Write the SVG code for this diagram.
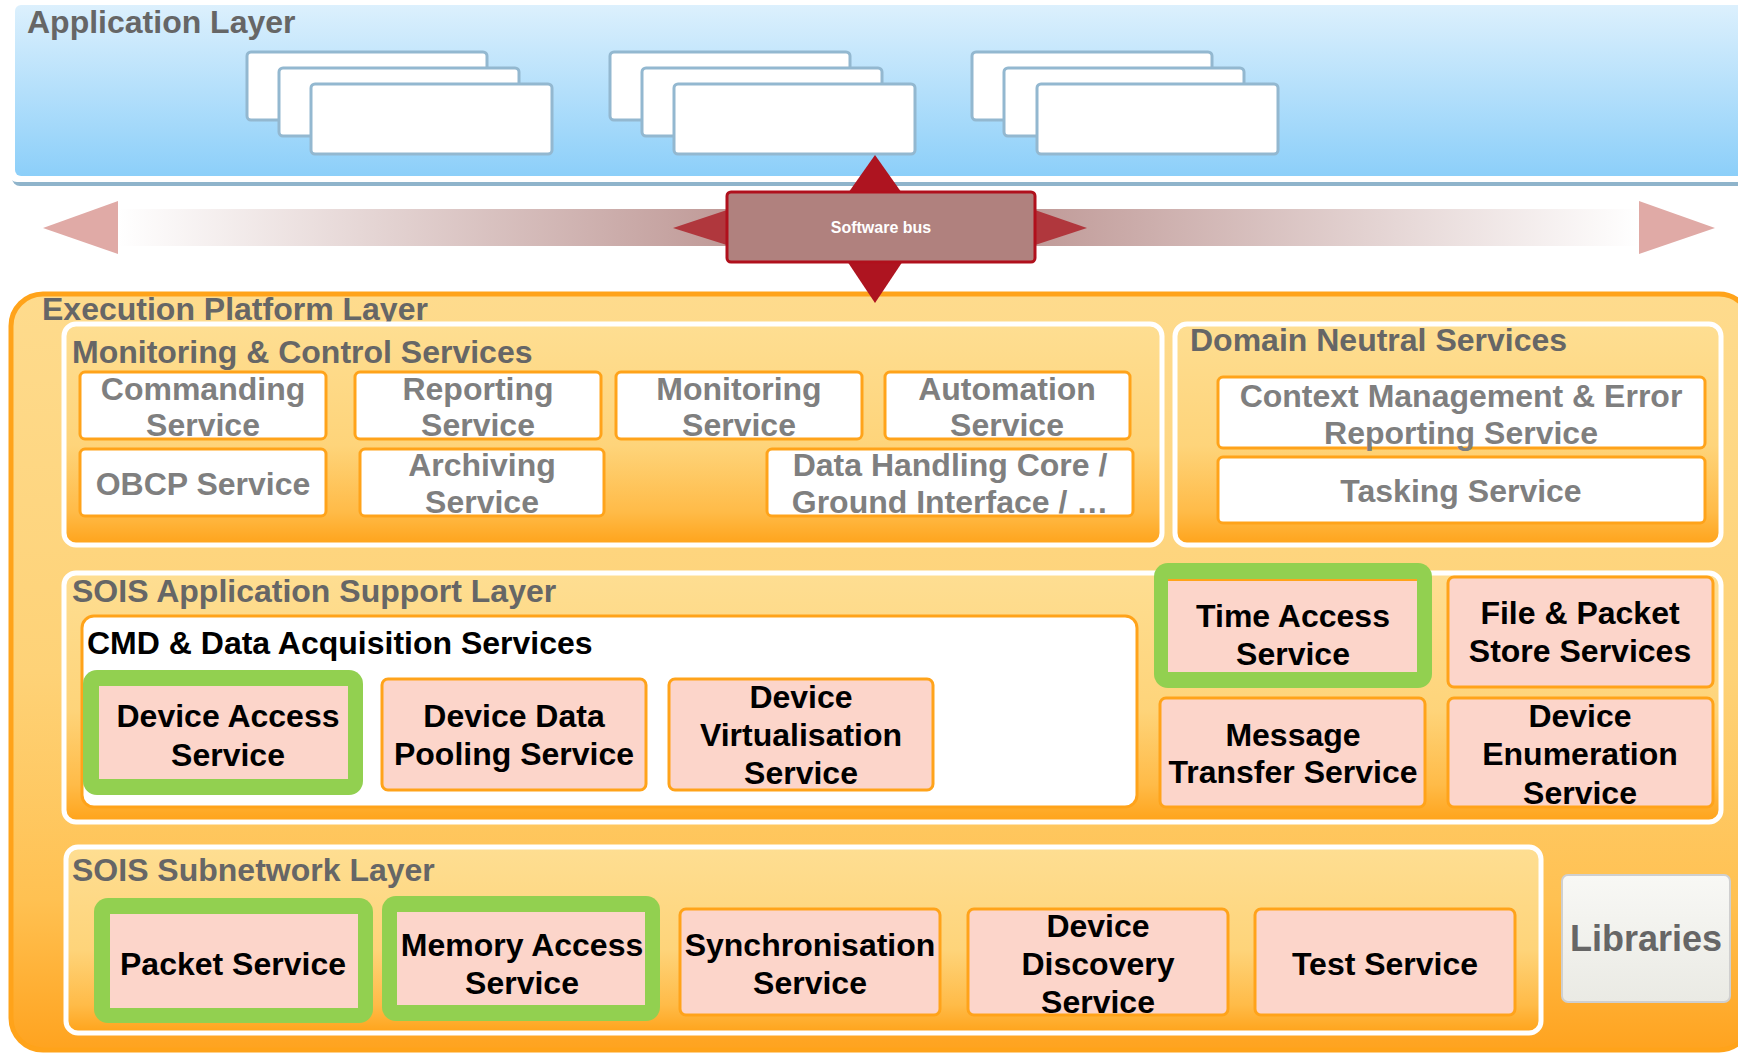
<svg xmlns="http://www.w3.org/2000/svg" width="1738" height="1054" viewBox="0 0 1738 1054">
<style>
text{font-family:"Liberation Sans",Arial,sans-serif;font-weight:bold;}
.title{font-size:32px;fill:#666666;}
.gt{font-size:32px;fill:#7f7f7f;text-anchor:middle;}
.bt{font-size:32px;fill:#000000;text-anchor:middle;}
.panel{fill:url(#panelGrad);stroke:#ffffff;stroke-width:5;}
.wbox{fill:#ffffff;stroke:#ffa31a;stroke-width:3;}
.pbox{fill:#fcd5ca;stroke:#ffa31a;stroke-width:3;}
.green{fill:#92d050;}
.pin{fill:#fcd5ca;}
.app{fill:#ffffff;stroke:#93b8d0;stroke-width:3;}
</style>
<defs>
<linearGradient id="appGrad" x1="0" y1="0" x2="0" y2="1">
<stop offset="0" stop-color="#dcf0fd"/>
<stop offset="1" stop-color="#8ccff9"/>
</linearGradient>
<linearGradient id="execGrad" x1="0" y1="0" x2="0" y2="1">
<stop offset="0" stop-color="#fedb8d"/>
<stop offset="0.5" stop-color="#fed277"/>
<stop offset="0.8" stop-color="#ffc152"/>
<stop offset="1" stop-color="#ffa31f"/>
</linearGradient>
<linearGradient id="panelGrad" x1="0" y1="0" x2="0" y2="1">
<stop offset="0" stop-color="#fede92"/>
<stop offset="0.55" stop-color="#fed47a"/>
<stop offset="0.85" stop-color="#ffbb48"/>
<stop offset="1" stop-color="#ffa31a"/>
</linearGradient>
<linearGradient id="busGrad" gradientUnits="userSpaceOnUse" x1="118" y1="0" x2="1639" y2="0">
<stop offset="0" stop-color="#ffffff"/>
<stop offset="0.5" stop-color="#b0817e"/>
<stop offset="1" stop-color="#ffffff"/>
</linearGradient>
<linearGradient id="libGrad" x1="0" y1="0" x2="0" y2="1">
<stop offset="0" stop-color="#f8f8f5"/>
<stop offset="1" stop-color="#eaeae4"/>
</linearGradient>
</defs>

<g id="application-layer">
<rect x="12" y="9" width="1740" height="177" rx="8" fill="#8fb4cb"/>
<rect x="9" y="4" width="1740" height="178" rx="8" fill="#ffffff"/>
<rect x="15" y="5" width="1730" height="171" rx="6" fill="url(#appGrad)"/>
<text class="title" x="27" y="33">Application Layer</text>
<g id="app-group-1">
<rect class="app" x="247" y="52" width="240" height="68" rx="4"/>
<rect class="app" x="279" y="68" width="240" height="68" rx="4"/>
<rect class="app" x="311" y="84" width="241" height="70" rx="4"/>
</g>
<g id="app-group-2">
<rect class="app" x="610" y="52" width="240" height="68" rx="4"/>
<rect class="app" x="642" y="68" width="240" height="68" rx="4"/>
<rect class="app" x="674" y="84" width="241" height="70" rx="4"/>
</g>
<g id="app-group-3">
<rect class="app" x="972" y="52" width="240" height="68" rx="4"/>
<rect class="app" x="1004" y="68" width="240" height="68" rx="4"/>
<rect class="app" x="1037" y="84" width="241" height="70" rx="4"/>
</g>
</g>

<g id="execution-platform-layer">
<rect x="11" y="294" width="1740" height="756" rx="32" fill="url(#execGrad)" stroke="#ffa31a" stroke-width="5"/>
<text class="title" x="42" y="320">Execution Platform Layer</text>
</g>

<g id="monitoring-control">
<rect class="panel" x="64" y="324" width="1098" height="221" rx="12"/>
<text class="title" x="72" y="363">Monitoring &amp; Control Services</text>
<g id="commanding"><rect class="wbox" x="80" y="372" width="246" height="67" rx="5"/><text class="gt" x="203" y="400">Commanding</text><text class="gt" x="203" y="436">Service</text></g>
<g id="reporting"><rect class="wbox" x="355" y="372" width="246" height="67" rx="5"/><text class="gt" x="478" y="400">Reporting</text><text class="gt" x="478" y="436">Service</text></g>
<g id="monitoring"><rect class="wbox" x="616" y="372" width="246" height="67" rx="5"/><text class="gt" x="739" y="400">Monitoring</text><text class="gt" x="739" y="436">Service</text></g>
<g id="automation"><rect class="wbox" x="885" y="372" width="245" height="67" rx="5"/><text class="gt" x="1007" y="400">Automation</text><text class="gt" x="1007" y="436">Service</text></g>
<g id="obcp"><rect class="wbox" x="80" y="449" width="246" height="67" rx="5"/><text class="gt" x="203" y="495">OBCP Service</text></g>
<g id="archiving"><rect class="wbox" x="360" y="449" width="244" height="67" rx="5"/><text class="gt" x="482" y="476">Archiving</text><text class="gt" x="482" y="513">Service</text></g>
<g id="data-handling"><rect class="wbox" x="767" y="449" width="366" height="67" rx="5"/><text class="gt" x="950" y="476">Data Handling Core /</text><text class="gt" x="950" y="513">Ground Interface / …</text></g>
</g>

<g id="domain-neutral">
<rect class="panel" x="1175" y="324" width="546" height="221" rx="12"/>
<text class="title" x="1190" y="351">Domain Neutral Services</text>
<g id="context-management"><rect class="wbox" x="1218" y="377" width="487" height="71" rx="5"/><text class="gt" x="1461" y="407">Context Management &amp; Error</text><text class="gt" x="1461" y="444">Reporting Service</text></g>
<g id="tasking"><rect class="wbox" x="1218" y="457" width="487" height="66" rx="5"/><text class="gt" x="1461" y="502">Tasking Service</text></g>
</g>

<g id="sois-application-support">
<rect class="panel" x="64" y="573" width="1657" height="249" rx="12"/>
<text class="title" x="72" y="602">SOIS Application Support Layer</text>
<g id="cmd-data-acquisition">
<rect x="82" y="616" width="1055" height="191" rx="12" fill="#ffffff" stroke="#ffa31a" stroke-width="3"/>
<text x="87" y="654" style="font-size:32px;fill:#000">CMD &amp; Data Acquisition Services</text>
</g>
<g id="device-access"><rect class="green" x="83" y="670" width="280" height="125" rx="14"/><rect class="pin" x="99" y="686" width="249" height="93"/><text class="bt" x="228" y="727">Device Access</text><text class="bt" x="228" y="766">Service</text></g>
<g id="device-data-pooling"><rect class="pbox" x="382" y="679" width="264" height="111" rx="6"/><text class="bt" x="514" y="727">Device Data</text><text class="bt" x="514" y="765">Pooling Service</text></g>
<g id="device-virtualisation"><rect class="pbox" x="669" y="679" width="264" height="111" rx="6"/><text class="bt" x="801" y="708">Device</text><text class="bt" x="801" y="746">Virtualisation</text><text class="bt" x="801" y="784">Service</text></g>
<g id="time-access"><rect class="green" x="1154" y="563" width="278" height="125" rx="14"/><rect class="pin" x="1168" y="579" width="249" height="93"/><line x1="1168" y1="580" x2="1417" y2="580" stroke="#ffa31a" stroke-width="2"/><text class="bt" x="1293" y="627">Time Access</text><text class="bt" x="1293" y="665">Service</text></g>
<g id="file-packet-store"><rect class="pbox" x="1448" y="577" width="265" height="110" rx="6"/><text class="bt" x="1580" y="624">File &amp; Packet</text><text class="bt" x="1580" y="662">Store Services</text></g>
<g id="message-transfer"><rect class="pbox" x="1160" y="698" width="265" height="109" rx="6"/><text class="bt" x="1293" y="746">Message</text><text class="bt" x="1293" y="783">Transfer Service</text></g>
<g id="device-enumeration"><rect class="pbox" x="1448" y="698" width="265" height="109" rx="6"/><text class="bt" x="1580" y="727">Device</text><text class="bt" x="1580" y="765">Enumeration</text><text class="bt" x="1580" y="804">Service</text></g>
</g>

<g id="sois-subnetwork">
<rect class="panel" x="66" y="847" width="1475" height="186" rx="12"/>
<text class="title" x="72" y="881">SOIS Subnetwork Layer</text>
<g id="packet-service"><rect class="green" x="94" y="898" width="279" height="125" rx="14"/><rect class="pin" x="110" y="914" width="248" height="94"/><text class="bt" x="233" y="975">Packet Service</text></g>
<g id="memory-access"><rect class="green" x="382" y="896" width="278" height="125" rx="14"/><rect class="pin" x="397" y="912" width="248" height="93"/><text class="bt" x="522" y="956">Memory Access</text><text class="bt" x="522" y="994">Service</text></g>
<g id="synchronisation"><rect class="pbox" x="680" y="909" width="260" height="106" rx="6"/><text class="bt" x="810" y="956">Synchronisation</text><text class="bt" x="810" y="994">Service</text></g>
<g id="device-discovery"><rect class="pbox" x="968" y="909" width="260" height="106" rx="6"/><text class="bt" x="1098" y="937">Device</text><text class="bt" x="1098" y="975">Discovery</text><text class="bt" x="1098" y="1013">Service</text></g>
<g id="test-service"><rect class="pbox" x="1255" y="909" width="260" height="106" rx="6"/><text class="bt" x="1385" y="975">Test Service</text></g>
</g>

<g id="libraries">
<rect x="1562" y="875" width="168" height="127" rx="6" fill="url(#libGrad)" stroke="#cfcfcf" stroke-width="2"/>
<text x="1646" y="951" style="font-size:36px;fill:#666666;text-anchor:middle">Libraries</text>
</g>

<g id="connectors">
<rect x="118" y="209" width="1521" height="37" fill="url(#busGrad)"/>
<polygon points="43,228 118,201 118,254" fill="#e0aaa6"/>
<polygon points="1715,228 1639,201 1639,254" fill="#e0aaa6"/>
<polygon points="875,155 904,196 846,196" fill="#ae1420"/>
<polygon points="875,303 905,258 845,258" fill="#ae1420"/>
<polygon points="673,228 730,209 730,246" fill="#b0373d"/>
<polygon points="1087,228 1032,209 1032,246" fill="#b0373d"/>
</g>

<g id="software-bus">
<rect x="727" y="192" width="308" height="70" rx="4" fill="#b0817e" stroke="#b0101c" stroke-width="3"/>
<text x="881" y="233" style="font-size:16px;fill:#ffffff;text-anchor:middle">Software bus</text>
</g>
</svg>
